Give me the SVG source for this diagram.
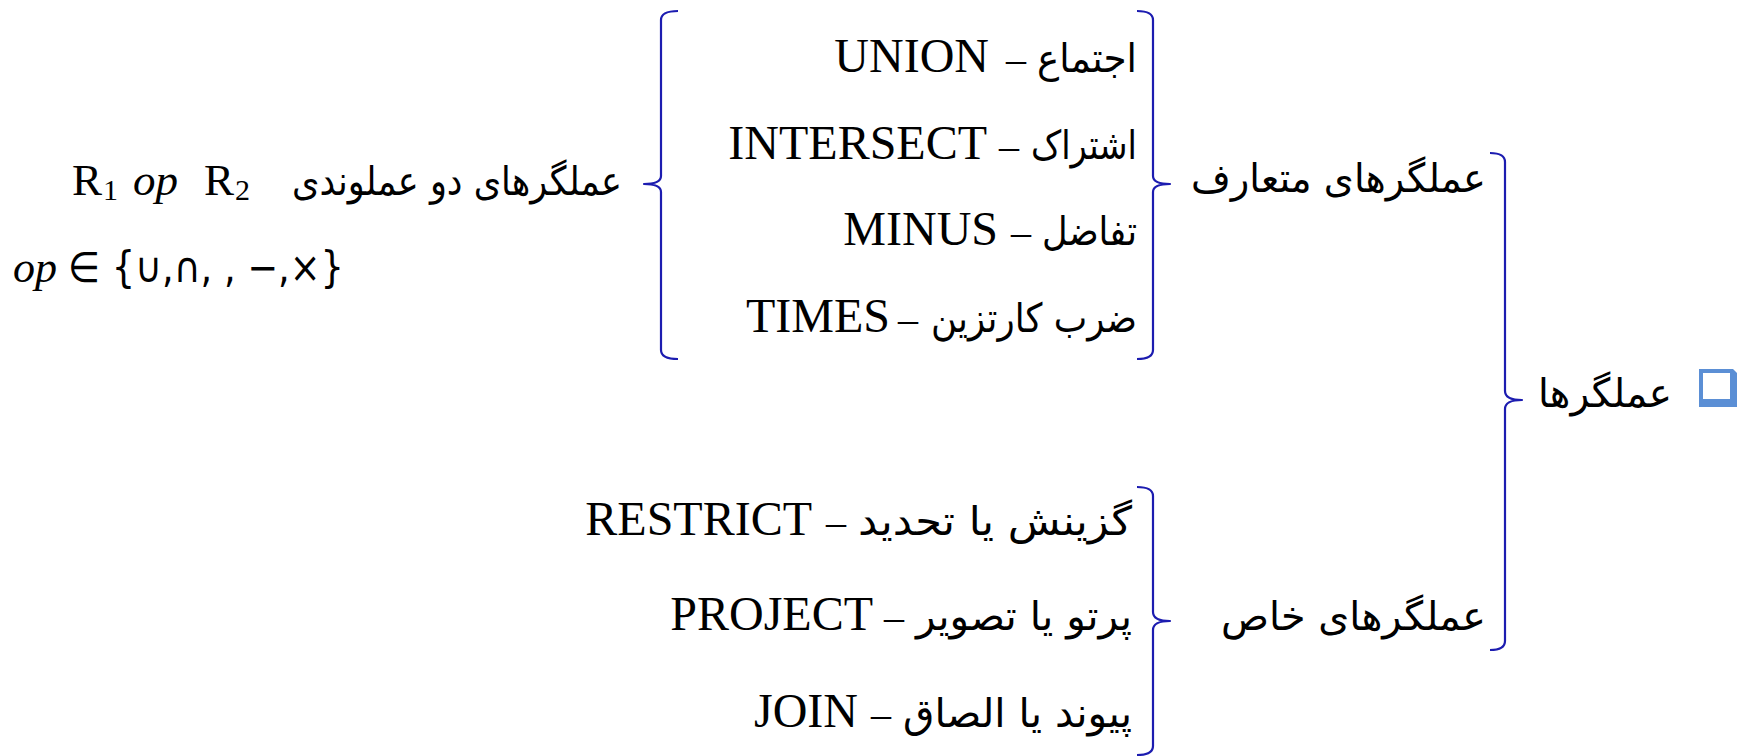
<svg xmlns="http://www.w3.org/2000/svg" width="1748" height="756" viewBox="0 0 1748 756">
<style>
.lat{font-family:"Liberation Serif","Times New Roman",serif;font-size:48px;fill:#000}
.fa{font-family:"DejaVu Sans","Noto Sans",sans-serif;font-size:40px;fill:#000}
.dash{font-family:"Liberation Serif",serif;font-size:40px;fill:#000}
.math{font-family:"DejaVu Sans","Noto Sans",sans-serif;font-size:42px;fill:#000}
.brace{fill:none;stroke:#1c1cb0;stroke-width:2.2;stroke-linejoin:round}
</style>
<rect width="1748" height="756" fill="#fff"/>
<g id="connectors">
<path class="brace" d="M678,11 Q661,11 661,20 L661,176 Q661,184 644,184 Q661,184 661,192 L661,350 Q661,359 678,359"/>
<path class="brace" d="M1137,11 Q1153,11 1153,20 L1153,176 Q1153,184 1170,184 Q1153,184 1153,192 L1153,350 Q1153,359 1137,359"/>
<path class="brace" d="M1490,153 Q1505,153 1505,162 L1505,391 Q1505,400 1522,400 Q1505,400 1505,409 L1505,641 Q1505,650 1490,650"/>
<path class="brace" d="M1137,487 Q1153,487 1153,496 L1153,612 Q1153,621 1170,621 Q1153,621 1153,630 L1153,746 Q1153,755 1137,755"/>
</g>
<g id="root">
<text class="fa" x="1672" y="407" text-anchor="end" textLength="134" lengthAdjust="spacingAndGlyphs">عملگرها</text>
<path d="M1699,369 H1733 L1737,373 V407 H1699 Z" fill="#5b8fd5"/>
<rect x="1703" y="373" width="27" height="26" fill="#fff"/>
</g>
<g id="standard">
<text class="fa" x="1486" y="192" text-anchor="end" textLength="295" lengthAdjust="spacingAndGlyphs">عملگرهای متعارف</text>
</g>
<g id="special">
<text class="fa" x="1486" y="630" text-anchor="end" textLength="265" lengthAdjust="spacingAndGlyphs">عملگرهای خاص</text>
</g>
<g id="binary">
<text class="fa" x="622" y="195" text-anchor="end" textLength="330" lengthAdjust="spacingAndGlyphs">عملگرهای دو عملوندی</text>
<text class="lat" x="72" y="195" style="font-size:45px">R</text>
<text class="lat" x="103" y="200" style="font-size:30px">1</text>
<text class="lat" x="133" y="195" style="font-size:45px;font-style:italic">op</text>
<text class="lat" x="204" y="195" style="font-size:45px">R</text>
<text class="lat" x="235" y="200" style="font-size:30px">2</text>
<text x="13" y="282" font-family="Liberation Serif,serif" font-style="italic" font-size="44">op</text>
<text class="math" x="68" y="282" textLength="276" lengthAdjust="spacingAndGlyphs">∈ {∪,∩, , −,×}</text>
</g>
<g id="union">
<text class="lat" x="989" y="72" text-anchor="end">UNION</text>
<text class="dash" x="1016" y="72" text-anchor="middle">–</text>
<text class="fa" x="1137" y="72" text-anchor="end" textLength="100" lengthAdjust="spacingAndGlyphs">اجتماع</text>
</g>
<g id="intersect">
<text class="lat" x="987" y="159" text-anchor="end">INTERSECT</text>
<text class="dash" x="1009" y="159" text-anchor="middle">–</text>
<text class="fa" x="1137" y="159" text-anchor="end" textLength="106" lengthAdjust="spacingAndGlyphs">اشتراک</text>
</g>
<g id="minus">
<text class="lat" x="998" y="245" text-anchor="end">MINUS</text>
<text class="dash" x="1021" y="245" text-anchor="middle">–</text>
<text class="fa" x="1137" y="245" text-anchor="end" textLength="95" lengthAdjust="spacingAndGlyphs">تفاضل</text>
</g>
<g id="times">
<text class="lat" x="890" y="332" text-anchor="end">TIMES</text>
<text class="dash" x="908" y="332" text-anchor="middle">–</text>
<text class="fa" x="1137" y="332" text-anchor="end" textLength="206" lengthAdjust="spacingAndGlyphs">ضرب کارتزین</text>
</g>
<g id="restrict">
<text class="lat" x="812" y="535" text-anchor="end">RESTRICT</text>
<text class="dash" x="836" y="535" text-anchor="middle">–</text>
<text class="fa" x="1132" y="535" text-anchor="end" textLength="274" lengthAdjust="spacingAndGlyphs">گزینش یا تحدید</text>
</g>
<g id="project">
<text class="lat" x="873" y="630" text-anchor="end">PROJECT</text>
<text class="dash" x="894" y="630" text-anchor="middle">–</text>
<text class="fa" x="1132" y="630" text-anchor="end" textLength="216" lengthAdjust="spacingAndGlyphs">پرتو یا تصویر</text>
</g>
<g id="join">
<text class="lat" x="858" y="727" text-anchor="end">JOIN</text>
<text class="dash" x="881" y="727" text-anchor="middle">–</text>
<text class="fa" x="1132" y="727" text-anchor="end" textLength="229" lengthAdjust="spacingAndGlyphs">پیوند یا الصاق</text>
</g>
</svg>
